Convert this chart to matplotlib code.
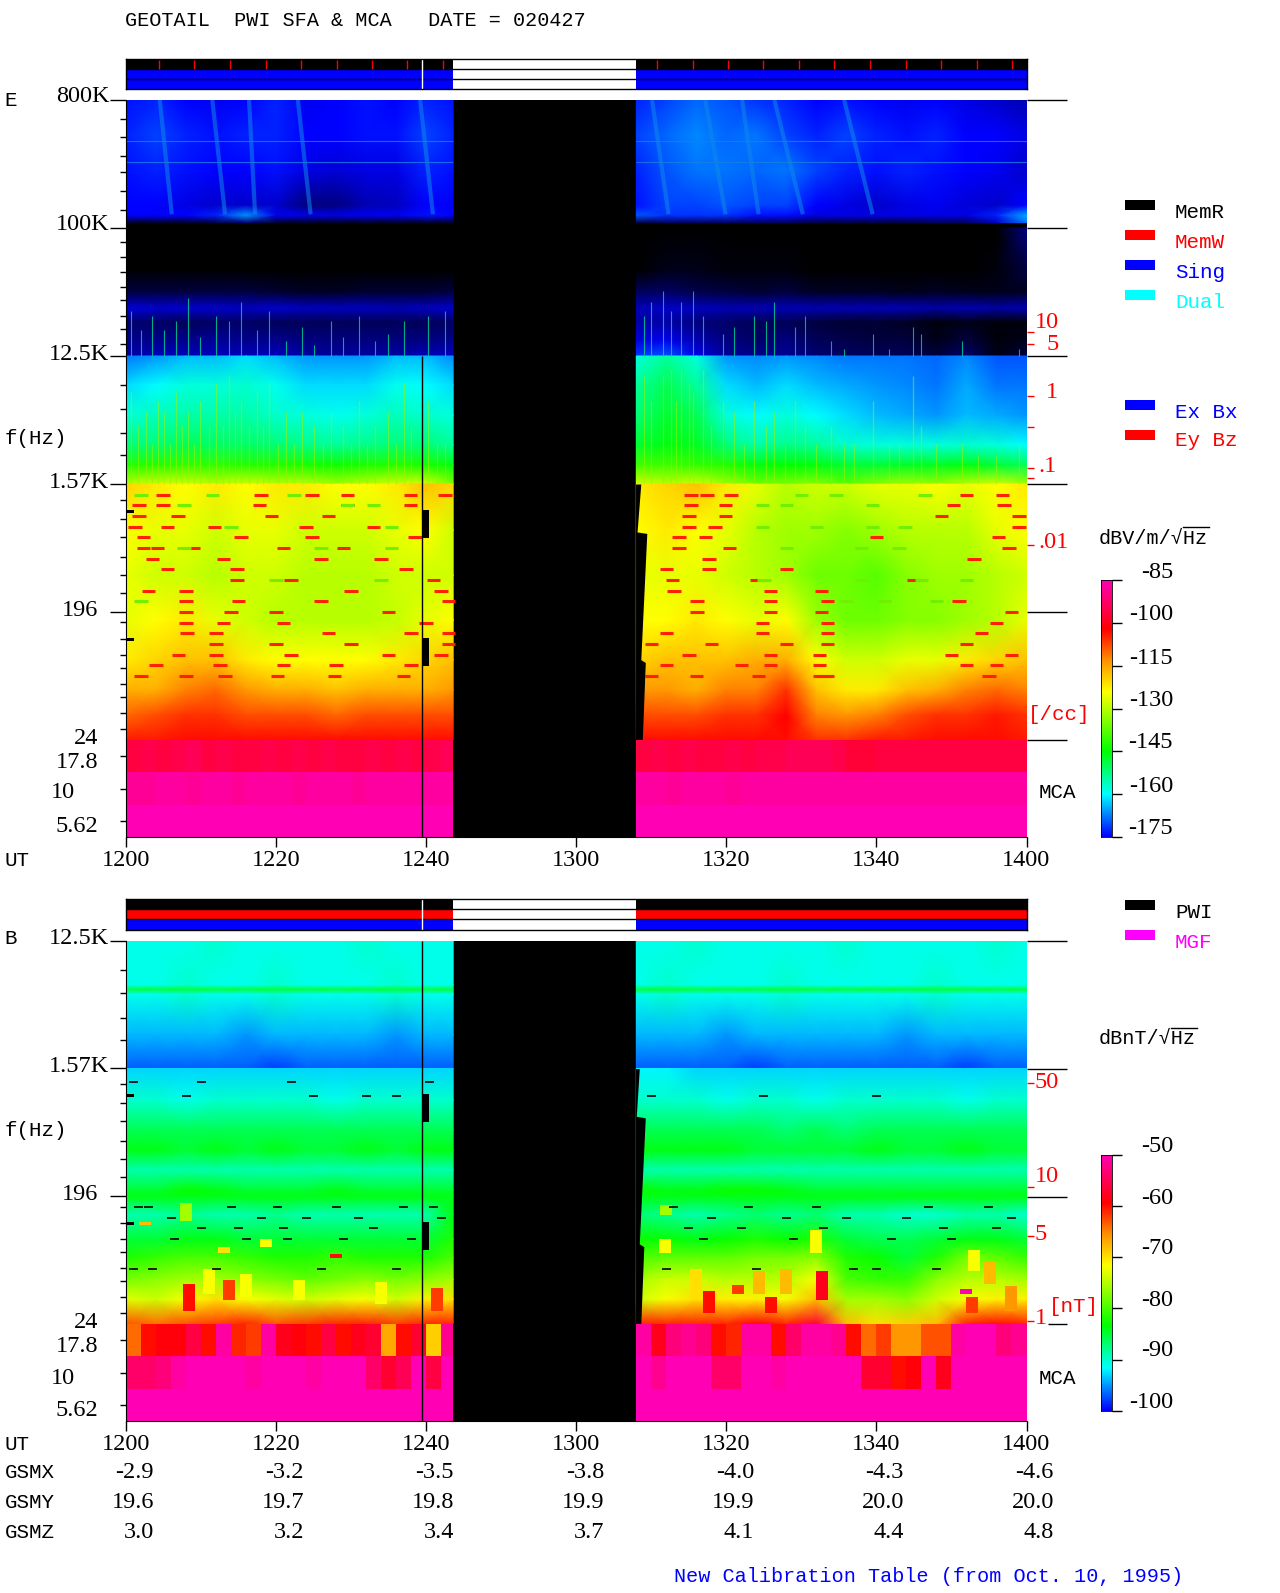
import numpy as np
import matplotlib
matplotlib.use("Agg")
import matplotlib.pyplot as plt
from matplotlib.colors import LinearSegmentedColormap, Normalize

plt.rcParams['font.family'] = ['Liberation Mono', 'DejaVu Sans Mono']

W, H = 1280, 1593

# time is minutes after 1200 UT
t_left = [0, 4, 8, 12, 16, 20, 24, 28, 32, 36, 40, 43.6]
t_right = [68, 72, 76, 80, 84, 88, 92, 96, 100, 104, 108, 112, 116, 120]
mca_edges_left = [0, 2, 4, 6, 8, 10, 12, 14, 16, 18, 20, 22, 24, 26, 28, 30, 32, 34, 36, 38, 40, 42, 43.6]
mca_edges_right = [68, 70, 72, 74, 76, 78, 80, 82, 84, 86, 88, 90, 92, 94, 96, 98, 100, 102, 104, 106, 108, 110, 112, 114, 116, 118, 120]
x_ticks = [0, 20, 40, 60, 80, 100, 120]
x_labels = ['1200', '1220', '1240', '1300', '1320', '1340', '1400']
gsmx = ['-2.9', '-3.2', '-3.5', '-3.8', '-4.0', '-4.3', '-4.6']
gsmy = ['19.6', '19.7', '19.8', '19.9', '19.9', '20.0', '20.0']
gsmz = ['3.0', '3.2', '3.4', '3.7', '4.1', '4.4', '4.8']
red_marks = [4.4, 9.1, 13.8, 18.6, 23.3, 28.1, 32.8, 37.5, 42.3, 70.7, 75.5, 80.2, 84.9, 89.7,
             94.4, 99.1, 103.9, 108.6, 113.4, 118.1]
cal_time = 39.4

minor_freqs = [585e3, 436e3, 322e3, 247e3, 182e3, 135e3, 80e3, 62e3, 49e3, 38.3e3, 30.9e3, 24e3, 19.3e3,
               15.2e3, 7.8e3, 5.3e3, 3.57e3, 2.5e3, 1210, 889, 664, 480, 358, 267, 165, 126, 97, 79, 60.7,
               49, 38, 29.4]

# E panel, electric field, dB
e_freq_a = [800e3, 453e3, 256e3, 145e3, 123e3, 109e3]
e_a = [
    [-174, -173, -175, -176, -175, -173, -176, -175, -174, -175, -173, -174, -173, -171, -169, -170, -172, -173, -175, -174, -175, -176, -175, -177, -179, -181],
    [-173, -171, -173, -174, -173, -173, -175, -175, -174, -174, -171, -173, -171, -169, -167, -169, -168, -171, -173, -171, -173, -174, -173, -175, -175, -177],
    [-174, -173, -174, -175, -175, -174, -177, -178, -177, -177, -173, -174, -173, -170, -168, -168, -169, -168, -171, -173, -174, -173, -174, -175, -176, -179],
    [-175, -175, -177, -179, -179, -179, -185, -185, -181, -180, -175, -176, -174, -171, -171, -170, -171, -171, -175, -177, -179, -177, -176, -178, -179, -175],
    [-175, -175, -175, -173, -166, -176, -177, -177, -176, -176, -174, -175, -170, -172, -172, -172, -174, -174, -177, -177, -177, -177, -177, -177, -173, -165],
    [-192, -192, -192, -190, -186, -192, -192, -192, -192, -192, -192, -192, -190, -188, -188, -188, -188, -188, -190, -190, -190, -190, -188, -188, -180, -168],
]
# slanted bright streaks in the top band: start and end time of each
streak_t_top = [4.5, 11.5, 16.4, 22.9, 39.2, 70.1, 77.2, 82.1, 86.4, 95.7]
streak_t_bot = [6.1, 13.2, 17.2, 24.6, 40.9, 72.3, 79.9, 84.3, 90.2, 99.5]

e_freq_b = [100e3, 50.5e3, 35.4e3, 27.3e3, 21.7e3, 16.2e3, 12.5e3]
e_b = [
    [-195, -195, -195, -195, -195, -195, -195, -195, -195, -195, -195, -195, -195, -195, -195, -195, -195, -195, -195, -195, -195, -195, -195, -195, -195, -185],
    [-195, -195, -195, -195, -195, -195, -195, -195, -195, -195, -195, -195, -195, -193, -193, -194, -194, -194, -195, -195, -195, -195, -195, -195, -194, -190],
    [-190, -190, -190, -190, -190, -191, -192, -192, -191, -191, -191, -190, -188, -187, -189, -190, -191, -190, -192, -192, -192, -193, -192, -193, -193, -192],
    [-178, -179, -179, -179, -180, -179, -180, -180, -180, -181, -180, -179, -181, -179, -180, -181, -181, -181, -181, -181, -181, -181, -182, -181, -182, -181],
    [-186, -187, -188, -187, -187, -188, -188, -188, -188, -188, -188, -187, -182, -182, -185, -187, -188, -188, -190, -191, -191, -192, -194, -193, -194, -194],
    [-184, -184, -184, -183, -184, -184, -185, -185, -185, -185, -185, -184, -178, -176, -181, -185, -187, -185, -188, -189, -190, -190, -193, -190, -194, -193],
    [-182, -180, -180, -180, -180, -180, -182, -183, -182, -182, -180, -180, -172, -170, -176, -183, -184, -183, -186, -187, -188, -188, -190, -186, -193, -190],
]
# green whistler-like streaks above 12.5 kHz
whistler_t = [0.7, 2, 3.4, 5, 6.7, 8.2, 9.9, 12, 13.7, 15.3, 17.5, 19.1, 21.3, 23.5, 25.1, 27.3, 28.9, 31, 33.2, 34.9, 37, 40.3, 42.5,
              69, 70, 71.5, 72.6, 74, 75.6, 76.9, 79.6, 81, 83.7, 85.3, 86.4, 89.2, 90.5, 94, 95.7, 99.5, 101.7, 104.9, 106, 111.4, 119]
whistler_top = [26e3, 19e3, 24e3, 19e3, 22e3, 32e3, 17e3, 24e3, 22e3, 30e3, 19e3, 26e3, 16e3, 20e3, 15e3, 22e3, 17e3, 24e3, 16e3, 18e3, 22e3, 24e3, 26e3,
                24e3, 30e3, 36e3, 26e3, 30e3, 36e3, 24e3, 18e3, 20e3, 24e3, 22e3, 30e3, 20e3, 24e3, 16e3, 14e3, 18e3, 14e3, 20e3, 18e3, 16e3, 14e3]

e_freq_c = [12.5e3, 7.8e3, 4790, 2950, 2125, 1562]
e_c = [
    [-168, -166, -164, -164, -162, -164, -166, -166, -166, -164, -164, -167, -158, -154, -158, -166, -167, -166, -167, -168, -168, -168, -169, -167, -170, -170],
    [-162, -160, -158, -158, -157, -159, -162, -162, -162, -159, -160, -162, -154, -150, -154, -162, -164, -162, -164, -165, -166, -167, -168, -165, -168, -168],
    [-158, -156, -155, -155, -155, -157, -158, -159, -158, -156, -157, -158, -152, -148, -150, -158, -160, -158, -160, -162, -164, -165, -166, -164, -165, -166],
    [-152, -152, -150, -151, -151, -152, -153, -154, -153, -152, -152, -154, -148, -146, -147, -152, -155, -153, -154, -157, -158, -158, -158, -157, -158, -160],
    [-142, -142, -141, -141, -142, -142, -143, -144, -143, -142, -143, -146, -140, -140, -141, -142, -146, -145, -146, -148, -148, -147, -147, -146, -148, -150],
    [-130, -128, -128, -130, -128, -130, -130, -132, -130, -128, -128, -135, -128, -130, -128, -132, -136, -135, -134, -138, -134, -132, -133, -130, -128, -132],
]
# the brighter streaks rising from 1.57 kHz
burst_t = [0.7, 1.6, 2.6, 3.4, 4.2, 5, 5.9, 6.7, 7.5, 8.2, 9.1, 9.9, 11, 12, 12.9, 13.7, 14.5, 15.3, 16.4, 17.5, 18.3, 19.1, 20.2, 21.3, 22.4, 23.5, 25.1, 26.2, 27.3, 28.9, 30, 31, 32.1, 33.2, 34.9, 36, 37, 38, 40.3, 41.4, 42.5,
           69, 70, 71.5, 72.6, 73.3, 74, 75, 75.6, 76.9, 78, 79.6, 81, 82.4, 83.7, 85.3, 86.4, 87.8, 89.2, 90.5, 92, 94, 95.7, 97, 99.5, 101.7, 103, 104.9, 106, 108, 111.4, 113.6, 116, 119]
burst_top = [7e3, 4e3, 5e3, 3e3, 6e3, 5e3, 3e3, 7e3, 4e3, 5e3, 3e3, 6e3, 4e3, 8e3, 4e3, 9e3, 5e3, 6e3, 4e3, 7e3, 4e3, 8e3, 3e3, 5e3, 3e3, 5e3, 4e3, 3e3, 5e3, 4e3, 3e3, 6e3, 3e3, 4e3, 5e3, 3e3, 8e3, 4e3, 6e3, 3e3, 3e3,
             9e3, 6e3, 9e3, 10e3, 6e3, 10e3, 8e3, 7e3, 10e3, 4e3, 6e3, 5e3, 3e3, 6e3, 4e3, 5e3, 3e3, 6e3, 4e3, 3e3, 4e3, 3e3, 3e3, 6e3, 3e3, 3e3, 9e3, 4e3, 3e3, 3e3, 2.5e3, 2.5e3, 3e3]

e_freq_d = [1562, 740, 356, 171, 89.6, 55, 36.8, 24.41]
e_d = [
    [-120, -122, -124, -122, -124, -122, -122, -124, -124, -122, -118, -120, -122, -120, -118, -122, -126, -130, -128, -128, -126, -126, -124, -126, -124, -122],
    [-124, -126, -126, -128, -126, -126, -128, -128, -128, -126, -124, -128, -124, -122, -124, -126, -130, -132, -132, -134, -132, -130, -130, -130, -126, -124],
    [-126, -128, -128, -130, -128, -128, -130, -130, -130, -128, -128, -128, -126, -126, -126, -128, -130, -132, -136, -136, -138, -134, -132, -132, -130, -128],
    [-126, -124, -122, -126, -128, -130, -130, -130, -130, -129, -126, -124, -124, -124, -122, -124, -126, -124, -132, -136, -136, -134, -134, -132, -130, -126],
    [-122, -120, -118, -118, -122, -124, -124, -124, -124, -122, -120, -118, -120, -118, -118, -118, -116, -116, -124, -128, -128, -126, -126, -122, -120, -118],
    [-116, -116, -112, -110, -114, -116, -116, -118, -116, -116, -116, -114, -114, -114, -116, -112, -112, -106, -118, -122, -122, -118, -116, -112, -110, -112],
    [-110, -108, -106, -106, -108, -108, -108, -110, -108, -108, -108, -108, -108, -108, -108, -106, -106, -102, -112, -114, -112, -108, -106, -106, -104, -106],
    [-104, -104, -103, -103, -103, -103, -103, -103, -103, -103, -103, -103, -103, -103, -103, -103, -103, -103, -106, -106, -104, -104, -103, -103, -103, -104],
]
# horizontal dashes of the sweep frequency receiver: row frequency, times
e_red_dashes = [
    (1313, [4.9, 18, 24.8, 29.5, 37.9, 42.5, 75.3, 77.4, 80.6, 112, 116.8]),
    (1104, [1.7, 4.9, 17.8, 29.5, 37.9, 75.3, 79.9, 110.3, 117]),
    (929, [1.7, 6.9, 19.4, 27, 75, 79.9, 108.7, 119]),
    (781, [1.2, 5.5, 11.8, 24, 33, 75, 78.5, 119]),
    (657, [2.3, 15.3, 24.8, 38.5, 77.2, 73.7, 100, 116.3]),
    (552, [2.3, 4.2, 9, 21, 29, 73.7, 80.4, 117.7]),
    (464, [3.5, 13, 26, 34, 77.7, 113]),
    (391, [5.5, 14.8, 37.3, 72, 77.7, 88]),
    (328, [14.8, 22, 41, 72.8, 84, 105]),
    (276, [3, 8, 30, 42, 73, 85.9, 92.7]),
    (232, [8, 15, 26, 43, 76.1, 85.9, 93.5, 111]),
    (195, [8, 14, 20, 35, 76.1, 85.9, 92.7, 118]),
    (164, [8, 13, 21, 40, 84.8, 93.5, 116]),
    (138, [8.1, 12, 27, 38, 43, 72, 84.8, 93.5, 114]),
    (116, [12, 20, 30, 43, 70, 78, 88, 93.5, 112]),
    (97.7, [7, 12, 22, 35, 42, 75, 85.9, 92.4, 110, 118]),
    (82, [4, 12.5, 21, 28, 38, 72, 82, 85.9, 92.4, 112, 116]),
    (69, [2, 8, 13.2, 20.2, 27.8, 37, 70, 76, 84.3, 92.4, 93.5, 115]),
]
e_green_dashes = [
    (1313, [2, 11.5, 22.4, 94.6, 106.5, 90]),
    (1104, [7.7, 29.5, 33, 84.8, 88, 99.5]),
    (781, [14, 35.4, 84.8, 99.5, 103.8, 92]),
    (552, [7.7, 35.4, 26, 98, 103, 88]),
    (328, [20, 34, 98, 112, 106, 85]),
    (232, [2, 101.1, 96, 108]),
]
e_mca_17 = [-96, -95, -96, -95, -94, -96, -95, -96, -96, -95, -96, -95, -96, -95, -96, -96, -95, -96, -95, -96, -95, -94,
            -96, -95, -96, -95, -96, -96, -95, -96, -95, -95, -94, -94, -94, -95, -97, -97, -96, -96, -96, -96, -96, -96, -96, -96, -96, -96]
e_mca_10 = [-88, -88, -87, -87, -88, -87, -87, -88, -87, -87, -87, -88, -87, -87, -87, -88, -87, -87, -87, -87, -87, -87,
            -87, -87, -88, -87, -87, -87, -88, -87, -87, -87, -87, -87, -87, -87, -87, -87, -87, -87, -87, -87, -87, -87, -87, -87, -87, -87]
e_mca_5 = [-85] * 48
e_gap_freq = [1562, 717, 700, 90, 86, 24.4]
e_gap_t = [68.6, 68.1, 69.4, 68.6, 69.2, 68.8]

# B panel, magnetic field, dB
b_freq_u = [12500, 6075, 5650, 5255, 2700, 1562]
b_u = [
    [-91, -91, -91, -90, -91, -91, -91, -91, -90, -91, -91, -91, -91, -91, -90, -91, -91, -91, -91, -90, -91, -91, -91, -91, -90, -91],
    [-91, -91, -90, -91, -91, -90, -91, -91, -91, -90, -91, -91, -91, -90, -91, -91, -91, -90, -91, -91, -91, -91, -90, -91, -91, -91],
    [-85, -85, -85, -85, -85, -85, -85, -85, -85, -85, -85, -85, -85, -85, -85, -85, -85, -85, -85, -85, -85, -85, -85, -85, -85, -85],
    [-91, -91, -90, -91, -91, -90, -91, -91, -91, -90, -91, -91, -91, -90, -91, -91, -91, -90, -91, -91, -91, -91, -90, -91, -91, -91],
    [-94, -94, -94, -94, -95, -94, -94, -94, -94, -95, -94, -94, -94, -94, -94, -95, -94, -94, -94, -94, -94, -95, -94, -94, -94, -94],
    [-97, -97, -97, -97, -97, -98, -97, -97, -97, -97, -97, -97, -97, -97, -97, -97, -98, -97, -97, -97, -97, -97, -97, -98, -97, -97],
]
b_freq_m = [1562, 937, 575, 414, 300, 217, 195.3]
b_m = [
    [-93, -93, -93, -93, -93, -93, -93, -93, -93, -93, -93, -93, -92, -92, -93, -93, -93, -93, -93, -93, -93, -93, -93, -93, -93, -93],
    [-90, -90, -91, -90, -90, -90, -90, -91, -90, -90, -90, -90, -90, -90, -90, -91, -90, -90, -91, -90, -90, -90, -90, -91, -90, -90],
    [-86, -86, -86, -86, -86, -86, -86, -86, -86, -86, -86, -86, -86, -86, -86, -86, -86, -87, -86, -87, -86, -86, -86, -86, -86, -86],
    [-84, -84, -85, -84, -85, -84, -85, -85, -84, -85, -84, -84, -84, -84, -84, -84, -85, -85, -85, -85, -84, -85, -85, -84, -85, -85],
    [-89, -89, -89, -89, -89, -89, -89, -89, -89, -89, -89, -89, -89, -89, -89, -89, -89, -89, -89, -89, -89, -89, -89, -89, -89, -89],
    [-85, -85, -83, -84, -85, -85, -85, -84, -85, -85, -85, -85, -83, -84, -84, -83, -83, -84, -85, -85, -85, -85, -85, -85, -85, -85],
    [-84, -84, -84, -84, -84, -84, -84, -84, -84, -84, -84, -84, -84, -84, -84, -84, -84, -84, -84, -84, -84, -84, -84, -84, -84, -84],
]
b_freq_l = [195.3, 145, 97, 72, 50.5, 36.5, 24.41]
b_l = [
    [-84, -84, -84, -84, -84, -84, -84, -84, -84, -84, -84, -84, -84, -84, -84, -84, -84, -84, -84, -84, -84, -84, -84, -84, -84, -84],
    [-89, -89, -88, -89, -89, -88, -89, -89, -89, -89, -89, -84, -87, -88, -89, -88, -87, -88, -87, -89, -89, -90, -90, -89, -89, -90],
    [-85, -85, -84, -84, -85, -85, -85, -85, -85, -85, -85, -82, -83, -83, -84, -83, -82, -83, -82, -85, -86, -86, -85, -84, -84, -85],
    [-82, -81, -80, -80, -81, -82, -82, -81, -82, -82, -82, -80, -80, -79, -79, -79, -78, -78, -77, -82, -83, -85, -82, -78, -79, -81],
    [-78, -77, -76, -76, -77, -78, -79, -78, -77, -78, -77, -76, -76, -74, -74, -75, -75, -75, -72, -80, -81, -81, -77, -75, -75, -76],
    [-73, -74, -72, -70, -72, -73, -74, -73, -72, -74, -71, -70, -74, -72, -70, -71, -71, -72, -68, -76, -76, -77, -74, -72, -71, -71],
    [-63, -64, -63, -62, -61, -63, -62, -61, -61, -62, -61, -61, -61, -61, -61, -61, -59, -61, -57, -68, -70, -69, -68, -61, -60, -61],
]
# narrow bursts near the bottom: time, low and high frequency, level
b_burst_t = [8.4, 8, 2.5, 13, 13.7, 18.6, 28, 11, 16, 23, 34, 41.5, 71.8, 72, 77.7, 84.3, 85.9, 81.5, 91.9, 92.7, 76, 88, 113, 115.2, 112, 112.8, 118]
b_burst_lo = [30, 130, 122, 78, 36, 85, 71, 40, 38, 36, 34, 30, 78, 145, 29, 40, 29, 40, 78, 36, 36, 40, 58, 47, 40, 29, 30]
b_burst_hi = [47, 175, 128, 86, 50, 97, 76, 60, 55, 50, 48, 44, 97, 170, 42, 58, 38, 46, 112, 58, 60, 60, 82, 67, 43, 38, 45]
b_burst_v = [-60, -76, -68, -70, -62, -72, -60, -72, -72, -72, -72, -62, -72, -76, -60, -68, -60, -62, -72, -58, -70, -68, -72, -68, -50, -62, -66]
b_black_dashes = [
    (1250, [1, 10, 22, 40.5]),
    (1000, [8, 25, 32, 36, 70, 85, 100]),
    (164, [1.7, 3, 14, 20.2, 28, 37, 41, 73, 83, 92, 107, 115]),
    (138, [6, 18, 24, 31, 42, 78, 88, 96, 104, 118]),
    (116, [10, 15, 21, 33, 75, 82, 93, 109, 116]),
    (97.7, [6.5, 16, 21.5, 29, 38, 77, 89, 102, 110]),
    (60, [1, 3.5, 12, 26, 36, 72, 84, 97, 100, 108]),
]
b_mca_17 = [-64, -60, -59, -59, -56, -60, -51, -61, -62, -51, -58, -59, -60, -56, -60, -58, -57, -67, -60, -57, -69, -52,
            -51, -58, -53, -52, -53, -60, -61, -51, -51, -60, -54, -51, -51, -52, -60, -64, -62, -66, -66, -63, -63, -51, -50, -50, -53, -52]
b_mca_10 = [-54, -54, -53, -51, -50, -50, -50, -50, -51, -50, -50, -50, -51, -50, -50, -50, -54, -57, -55, -50, -56, -50,
            -50, -52, -50, -50, -50, -54, -54, -50, -50, -51, -50, -50, -50, -50, -50, -57, -57, -60, -59, -50, -58, -50, -50, -50, -50, -50]
b_mca_5 = [-50] * 48
b_gap_freq = [1562, 717, 700, 90, 86, 24.4]
b_gap_t = [68.4, 68.0, 69.2, 68.4, 69.0, 68.6]

cbar_e_ticks = [-175, -160, -145, -130, -115, -100, -85]
cbar_b_ticks = [-100, -90, -80, -70, -60, -50]

# the colour table, with a black run below the blue end for the empty pixels
cmap = LinearSegmentedColormap.from_list('pwi', [
    (0.0, '#000000'), (0.182, '#0000ff'), (0.318, '#00ffff'), (0.455, '#00ff00'),
    (0.645, '#ffff00'), (0.745, '#ff9000'), (0.845, '#ff0000'), (1.0, '#ff00b4')], N=512)
norm_e = Normalize(-195, -85)
norm_b = Normalize(-111.1, -50)

fig = plt.figure(figsize=(W / 100, H / 100), dpi=100, facecolor='white')


def ax_px(x0, y0, x1, y1, **kw):
    return fig.add_axes([x0 / W, 1 - y1 / H, (x1 - x0) / W, (y1 - y0) / H], **kw)


def section(ax, freqs, grid, norm):
    z = np.array(grid, dtype=float)
    ax.pcolormesh(t_left, freqs, z[:, :12], cmap=cmap, norm=norm, shading='gouraud', rasterized=True)
    ax.pcolormesh(t_right, freqs, z[:, 12:], cmap=cmap, norm=norm, shading='gouraud', rasterized=True)


def dashes(ax, rows, color, half=0.9, lw=2.2):
    for f, times in rows:
        t = np.array(times)
        ax.hlines([f] * len(t), t - half, t + half, color=color, lw=lw, zorder=2)


def main_axes(y0, y1, ftop, major):
    ax = ax_px(126, y0, 1026.5, y1, facecolor='black')
    ax.set_yscale('log')
    ax.set_xlim(0, 120)
    ax.set_ylim(24.41, ftop)
    ax.set_xticks([])
    ax.set_yticks(major)
    ax.set_yticks([f for f in minor_freqs if f < ftop], minor=True)
    ax.set_yticklabels([])
    ax.set_yticklabels([], minor=True)
    ax.tick_params(axis='y', which='major', length=11.5, width=1)
    ax.tick_params(axis='y', which='minor', length=4.3, width=1)
    for s in ['top', 'right']:
        ax.spines[s].set_visible(False)
    return ax


def mca_axes(y0, y1, rows, norm):
    ax = ax_px(126, y0, 1026.5, y1, facecolor='black')
    ax.set_xlim(0, 120)
    ax.set_ylim(0, 3)
    z = np.array(rows, dtype=float)
    ax.pcolormesh(mca_edges_left, [0, 1, 2, 3], z[:, :22], cmap=cmap, norm=norm)
    ax.pcolormesh(mca_edges_right, [0, 1, 2, 3], z[:, 22:], cmap=cmap, norm=norm)
    ax.set_xticks(x_ticks)
    ax.set_xticklabels([])
    ax.set_yticks([0.5, 1.5, 2.5])
    ax.set_yticklabels([])
    ax.tick_params(axis='both', length=4.3, width=1)
    ax.tick_params(axis='x', length=7.5)
    ax.axvline(cal_time, color='black', lw=1)
    for s in ['top', 'right']:
        ax.spines[s].set_visible(False)
    return ax


def status_bar(y0, y1, colors):
    ax = ax_px(126, y0, 1026.5, y1, facecolor='white')
    ax.set_xlim(0, 120)
    ax.set_ylim(3, 0)
    for i, c in enumerate(colors):
        ax.barh(i + 0.5, 43.6, left=0, height=1, color=c, edgecolor='none')
        ax.barh(i + 0.5, 52, left=68, height=1, color=c, edgecolor='none')
    ax.axhline(1, color='black', lw=1)
    ax.axhline(2, color='black', lw=1)
    ax.axvline(cal_time, color='white', lw=1)
    ax.set_xticks([])
    ax.set_yticks([])
    for s in ax.spines.values():
        s.set_linewidth(1)
    return ax


def colorbar(y0, y1, lo, hi, ticks, norm):
    ax = ax_px(1100.5, y0, 1111.5, y1)
    levels = np.linspace(lo, hi, 256).reshape(-1, 1)
    ax.imshow(levels, origin='lower', aspect='auto', cmap=cmap, norm=norm, extent=[0, 1, lo, hi])
    ax.set_xticks([])
    ax.yaxis.tick_right()
    ax.set_yticks(ticks)
    ax.set_yticklabels([])
    ax.tick_params(axis='y', length=7, width=1)
    for s in ax.spines.values():
        s.set_linewidth(0.6)


def black_blocks(ax, bands):
    for lo, hi in bands:
        ax.fill_between([cal_time, 40.4], lo, hi, color='black', lw=0, zorder=3)


# E panel
status_e = status_bar(59, 89.3, ['black', '#0000ff', '#0000ff'])
status_e.vlines(red_marks, 0.05, 0.95, color='red', lw=1)

ax_e = main_axes(100, 740, 800e3, [800e3, 100e3, 12.5e3, 1562.5, 195.3])
section(ax_e, e_freq_a, e_a, norm_e)
section(ax_e, e_freq_b, e_b, norm_e)
section(ax_e, e_freq_c, e_c, norm_e)
section(ax_e, e_freq_d, e_d, norm_e)
for t0, t1 in zip(streak_t_top, streak_t_bot):
    ax_e.plot([t0, t1], [800e3, 125e3], color='#1088e8', lw=3, alpha=0.55, solid_capstyle='butt')
ax_e.hlines([411e3, 293e3], [0, 0], [43.6, 43.6], color='#1a80e0', lw=0.8, alpha=0.8)
ax_e.hlines([411e3, 293e3], [68, 68], [120, 120], color='#1a80e0', lw=0.8, alpha=0.8)
ax_e.vlines(whistler_t, 12500, whistler_top, color='#00d890', lw=0.8, alpha=0.8)
ax_e.vlines(burst_t, 1562, burst_top, color='#a0f000', lw=0.9, alpha=0.55)
dashes(ax_e, e_red_dashes, '#ff2000')
dashes(ax_e, e_green_dashes, '#70f000')
ax_e.fill_betweenx(e_gap_freq, 67.9, e_gap_t, color='black', lw=0, zorder=3)
black_blocks(ax_e, [(654, 1024), (81.7, 128)])
ax_e.fill_between([0, 1.1], 980, 1024, color='black', lw=0, zorder=3)
ax_e.fill_between([0, 1.1], 122, 128, color='black', lw=0, zorder=3)
ax_e.vlines(cal_time, 24.41, 12500, color='black', lw=1, zorder=4)
ax_e.spines['bottom'].set_visible(False)

mca_e = mca_axes(740, 837, [e_mca_5, e_mca_10, e_mca_17], norm_e)
colorbar(580, 837, -175, -85, cbar_e_ticks, norm_e)

# B panel
status_b = status_bar(899, 929.5, ['black', '#ff0000', '#0000ff'])

ax_b = main_axes(940.7, 1324, 12500, [12500, 1562.5, 195.3])
section(ax_b, b_freq_u, b_u, norm_b)
section(ax_b, b_freq_m, b_m, norm_b)
section(ax_b, b_freq_l, b_l, norm_b)
for t, lo, hi, v in zip(b_burst_t, b_burst_lo, b_burst_hi, b_burst_v):
    ax_b.fill_between([t - 0.8, t + 0.8], lo, hi, color=cmap(norm_b(v)), lw=0, zorder=2)
dashes(ax_b, b_black_dashes, 'black', half=0.6, lw=1.2)
ax_b.fill_betweenx(b_gap_freq, 67.9, b_gap_t, color='black', lw=0, zorder=3)
black_blocks(ax_b, [(654, 1024), (81.7, 128)])
ax_b.fill_between([0, 1.1], 980, 1024, color='black', lw=0, zorder=3)
ax_b.fill_between([0, 1.1], 122, 128, color='black', lw=0, zorder=3)
ax_b.vlines(cal_time, 24.41, 12500, color='black', lw=1, zorder=4)
ax_b.spines['bottom'].set_visible(False)

mca_b = mca_axes(1324, 1421.4, [b_mca_5, b_mca_10, b_mca_17], norm_b)
colorbar(1154.6, 1411, -100, -50, cbar_b_ticks, norm_b)

# texts and the small scale marks, in pixel coordinates of the page
over = fig.add_axes([0, 0, 1, 1], facecolor='none', zorder=10)
over.set_xlim(0, W)
over.set_ylim(H, 0)
over.axis('off')


def put(x, y, s, ha='left', color='black', size=15):
    over.text(x, y, s, ha=ha, va='center', color=color, fontsize=size)


def num(x, y, s, ha='left', color='black'):
    # numbers sit closer to the tall narrow original in the serif face
    over.text(x, y, s, ha=ha, va='center', color=color, fontsize=17.5, family='Liberation Serif')


def t_x(t):
    return 126 + t * 7.5


put(125, 20, 'GEOTAIL  PWI SFA & MCA   DATE = 020427', size=14.5)

for y, s in zip([97, 225, 354, 482], ['800K', '100K', '12.5K', '1.57K']):
    num(109.5, y, s, ha='right')
for y, s in zip([610.6, 738, 762, 826], ['196', '24', '17.8', '5.62']):
    num(98, y, s, ha='right')
num(51, 793, '10')
put(4.5, 100, 'E')
put(4.5, 439, 'f(Hz)')
put(4.5, 860, 'UT')

num(109.5, 938, '12.5K', ha='right')
num(109.5, 1066, '1.57K', ha='right')
for y, s in zip([1195, 1323, 1346.5, 1410], ['196', '24', '17.8', '5.62']):
    num(98, y, s, ha='right')
num(51, 1378, '10')
put(4.5, 938, 'B')
put(4.5, 1130, 'f(Hz)')
put(4.5, 1444, 'UT')
put(4.5, 1472, 'GSMX')
put(4.5, 1502, 'GSMY')
put(4.5, 1532, 'GSMZ')

for t, lab, gx, gy, gz in zip(x_ticks, x_labels, gsmx, gsmy, gsmz):
    num(t_x(t), 860, lab, ha='center')
    num(t_x(t), 1444, lab, ha='center')
    num(t_x(t) + 28, 1472, gx, ha='right')
    num(t_x(t) + 28, 1502, gy, ha='right')
    num(t_x(t) + 28, 1532, gz, ha='right')

# long black marks to the right of the panels
over.hlines([100, 228, 356, 484, 612, 740], 1026.5, 1066.5, color='black', lw=1)
over.hlines([940.7, 1068.5, 1196.7], 1026.5, 1066.5, color='black', lw=1)
over.hlines([1324], 1048, 1066.5, color='black', lw=1)

# density scale in red
over.hlines([332, 344, 396, 427, 468, 478, 545], 1026.5, 1034, color='red', lw=1)
over.hlines([1083, 1187, 1236, 1321], 1026.5, 1034, color='red', lw=1)
for x, y, s in [(1047, 322, '10'), (1053, 345, '5'), (1051.5, 393, '1'), (1048, 467, '.1'),
                (1053, 543, '.01'), (1047, 1083, '50'), (1047, 1177, '10'),
                (1041, 1235, '5'), (1041, 1318, '1')]:
    num(x, y, s, ha='center', color='red')
put(1059.6, 714, '[/cc]', ha='center', color='red')
put(1073.5, 1306, '[nT]', ha='center', color='red')
put(1057.5, 793, 'MCA', ha='center')
put(1057.5, 1378, 'MCA', ha='center')

# legends
for y0, c, name, ty in [(200, 'black', 'MemR', 212), (230, 'red', 'MemW', 243), (260, '#0000ff', 'Sing', 273),
                        (290, 'cyan', 'Dual', 302)]:
    over.fill_between([1125, 1155], y0, y0 + 10, color=c, lw=0)
    put(1175, ty, name, color=c)
for y0, c, name, ty in [(400, '#0000ff', 'Ex Bx', 412), (430, 'red', 'Ey Bz', 441)]:
    over.fill_between([1125, 1155], y0, y0 + 10, color=c, lw=0)
    put(1175, ty, name, color=c)
for y0, c, name, ty in [(900, 'black', 'PWI', 912), (930, '#ff00ff', 'MGF', 942)]:
    over.fill_between([1125, 1155], y0, y0 + 10, color=c, lw=0)
    put(1175, ty, name, color=c)

put(1099, 538, 'dBV/m/√Hz', size=14.5)
over.plot([1183, 1209], [526.7, 526.7], color='black', lw=1)
put(1099, 1038, 'dBnT/√Hz', size=14.5)
over.plot([1171, 1197], [1027.7, 1027.7], color='black', lw=1)

for y, s in zip([572.7, 614, 658, 700, 742.7, 786, 828], ['-85', '-100', '-115', '-130', '-145', '-160', '-175']):
    num(1173, y, s, ha='right')
for y, s in zip([1146.5, 1198.5, 1248, 1300, 1350, 1402], ['-50', '-60', '-70', '-80', '-90', '-100']):
    num(1173, y, s, ha='right')

put(674, 1576, 'New Calibration Table (from Oct. 10, 1995)', color='#0000ff', size=14.5)

fig.savefig('out.png', dpi=100)
